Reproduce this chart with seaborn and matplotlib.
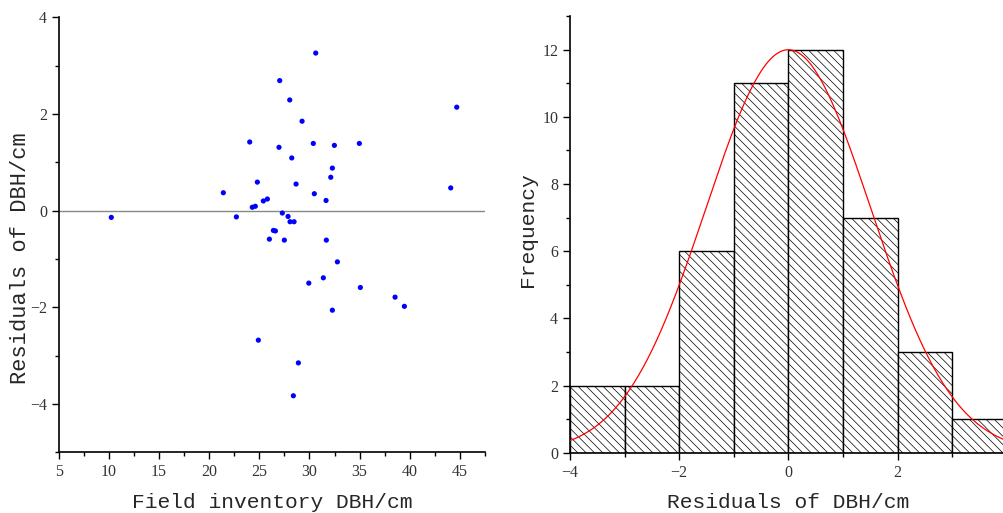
import numpy as np
import pandas as pd
import matplotlib
matplotlib.use("Agg")
import matplotlib.pyplot as plt
from matplotlib.ticker import MultipleLocator
import seaborn as sns

# Field-measured DBH (cm) and the residuals of the estimated DBH (cm)
field_dbh = [30.62, 27.03, 28.03, 44.68, 29.26, 24.04, 30.38, 34.97, 32.48, 26.96,
             28.23, 32.28, 32.12, 24.80, 28.66, 44.08, 21.41, 30.48, 31.65, 25.80,
             25.40, 24.60, 24.30, 10.24, 22.71, 27.29, 27.86, 28.06, 28.46, 26.40,
             26.60, 26.00, 27.49, 31.68, 32.78, 29.93, 31.38, 35.07, 38.53, 39.46,
             32.28, 24.90, 28.89, 28.39]
residuals = [3.26, 2.69, 2.29, 2.14, 1.85, 1.42, 1.39, 1.39, 1.35, 1.31,
             1.09, 0.88, 0.69, 0.59, 0.55, 0.47, 0.37, 0.35, 0.21, 0.24,
             0.20, 0.09, 0.07, -0.14, -0.13, -0.05, -0.12, -0.23, -0.23, -0.41,
             -0.42, -0.59, -0.61, -0.61, -1.06, -1.50, -1.39, -1.59, -1.79, -1.98,
             -2.06, -2.68, -3.15, -3.83]
bin_edges = [-4, -3, -2, -1, 0, 1, 2, 3, 4]

# Normal curve parameters of the frequency fit
curve_peak = 12.0
curve_mean = 0.0
curve_sd = 1.51

df = pd.DataFrame({"dbh": field_dbh, "res": residuals})

sns.set_style("ticks")
label_font = ["Liberation Mono", "DejaVu Sans Mono"]
tick_font = ["Liberation Serif", "DejaVu Serif"]
plt.rcParams["hatch.linewidth"] = 0.5
plt.rcParams["axes.unicode_minus"] = True

fig = plt.figure(figsize=(10.04, 5.13), dpi=100)
ax1 = fig.add_axes([0.0585, 0.1183, 0.4246, 0.848])
ax2 = fig.add_axes([0.5677, 0.1175, 0.435, 0.851])


def style_axes(ax):
    for side in ("top", "right"):
        ax.spines[side].set_visible(False)
    for side in ("left", "bottom"):
        ax.spines[side].set_linewidth(1.2)
        ax.spines[side].set_color("black")
    ax.tick_params(which="major", direction="out", length=5, width=1.0,
                   colors="black", labelcolor="#333333", labelsize=11.5)
    ax.tick_params(which="minor", direction="out", length=3, width=1.0, colors="black")
    for lab in ax.get_xticklabels() + ax.get_yticklabels():
        lab.set_family(tick_font)


# Residuals vs field DBH
ax1.axhline(0, color="#888888", lw=1.0, zorder=1)
sns.scatterplot(data=df, x="dbh", y="res", ax=ax1, color="#0000ff", s=14,
                edgecolor="none", linewidth=0, zorder=3)
ax1.set_xlim(5, 47.5)
ax1.set_ylim(-5, 4)
ax1.xaxis.set_major_locator(MultipleLocator(5))
ax1.xaxis.set_minor_locator(MultipleLocator(2.5))
ax1.yaxis.set_major_locator(MultipleLocator(2))
ax1.yaxis.set_minor_locator(MultipleLocator(1))
ax1.set_xlabel("Field inventory DBH/cm", family=label_font, fontsize=15.3, labelpad=9)
ax1.set_ylabel("Residuals of DBH/cm", family=label_font, fontsize=15.8)
ax1.yaxis.set_label_coords(-0.065, 0.447)
style_axes(ax1)

# Histogram of residuals with normal curve
sns.histplot(data=df, x="res", bins=bin_edges, ax=ax2, stat="count",
             facecolor="white", edgecolor="black", linewidth=1.0,
             hatch="\\\\\\\\", alpha=1)
xs = np.linspace(-4.2, 4.2, 400)
ys = curve_peak * np.exp(-0.5 * ((xs - curve_mean) / curve_sd) ** 2)
ax2.plot(xs, ys, color="red", lw=0.9, zorder=5)
ax2.set_xlim(-4, 4)
ax2.set_ylim(0, 13)
ax2.xaxis.set_major_locator(MultipleLocator(2))
ax2.xaxis.set_minor_locator(MultipleLocator(1))
ax2.yaxis.set_major_locator(MultipleLocator(2))
ax2.yaxis.set_minor_locator(MultipleLocator(1))
ax2.set_xlabel("Residuals of DBH/cm", family=label_font, fontsize=15.3, labelpad=9)
ax2.set_ylabel("Frequency", family=label_font, fontsize=15.3)
ax2.yaxis.set_label_coords(-0.076, 0.51)
style_axes(ax2)

fig.savefig("out.png", dpi=100)
